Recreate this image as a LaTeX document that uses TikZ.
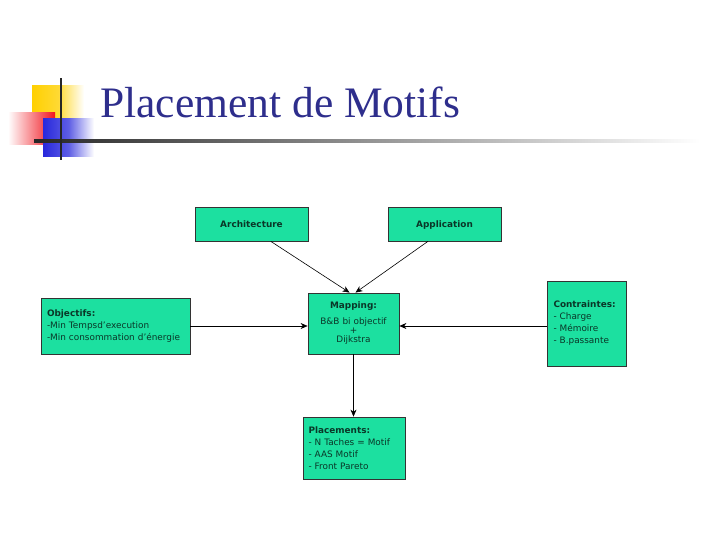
\documentclass[tikz,border=0pt]{standalone}
\usepackage{fontspec}
\setmainfont{Liberation Serif}
\newfontfamily\boxfont{DejaVu Sans}
\usetikzlibrary{arrows.meta,calc}
\definecolor{boxfill}{RGB}{28,224,160}
\definecolor{boxtext}{RGB}{10,55,40}
\definecolor{titleblue}{RGB}{46,46,140}
\definecolor{logoyellow}{RGB}{255,208,0}
\definecolor{logored}{RGB}{240,20,30}
\definecolor{logoblue}{RGB}{40,40,220}
\begin{document}
\begin{tikzpicture}[x=1pt,y=-1pt,
  box/.style={draw=black!80, fill=boxfill, line width=0.8pt, inner sep=0pt, text=boxtext,
    font=\boxfont\fontsize{8.9}{12}\selectfont},
  headbox/.style={box, minimum width=113pt, minimum height=34pt, text height=8pt, text depth=0pt,
    font=\boxfont\bfseries\fontsize{8.9}{12}\selectfont},
  conn/.style={-{Stealth[length=7pt,width=6pt]}, line width=0.6pt}]
\useasboundingbox (0,0) rectangle (720,540);
% logo
\shade[left color=logoyellow, right color=white, middle color=logoyellow!80] (32,86) rectangle (84,120);
\shade[left color=white, right color=logored] (8,113) rectangle (55,145);
\shade[left color=logoblue, right color=white, middle color=logoblue!75] (43,119) rectangle (94,157);
\shade[left color=black!85, right color=white] (34,140) rectangle (700,142.2);
\fill[black!85] (60,78) rectangle (62.2,160);
% title
\node[anchor=base west, inner sep=0pt, text=titleblue, font=\fontsize{43.5}{43.5}\selectfont] (title) at (100,118) {Placement de Motifs};
% boxes
\node[headbox] (arch) at (251.5,224) {Architecture};
\node[headbox] (app) at (444.5,224) {Application};
\node[box, minimum width=149pt, minimum height=56pt, text width=137pt, align=left] (obj) at (115.5,326) {\textbf{Objectifs:}\\-Min Tempsd’execution\\-Min consommation d’énergie};
\node[box, minimum width=91pt, minimum height=61pt, text width=91pt, align=center, font=\boxfont\fontsize{8.9}{9}\selectfont] (map) at (353.5,323.5) {\textbf{Mapping:}\\[7pt]B\&B bi objectif\\+\\Dijkstra};
\node[box, minimum width=79pt, minimum height=85pt, text width=66pt, align=left] (con) at (586.5,323.5) {\textbf{Contraintes:}\\- Charge\\- Mémoire\\- B.passante};
\node[box, minimum width=102pt, minimum height=62pt, text width=91pt, align=left] (pla) at (354,448) {\textbf{Placements:}\\- N Taches = Motif\\- AAS Motif\\- Front Pareto};
% connectors
\draw[conn] ($(arch.south west)!0.67!(arch.south east)$) -- ($(map.north)+(-4,0)$);
\draw[conn] ($(app.south west)!0.354!(app.south east)$) -- ($(map.north)+(2,0)$);
\draw[conn] (obj.east) -- (map.west |- obj.east);
\draw[conn] (con.west |- obj.east) -- (map.east |- obj.east);
\draw[conn] (map.south) -- (map.south |- pla.north);
\end{tikzpicture}
\end{document}
